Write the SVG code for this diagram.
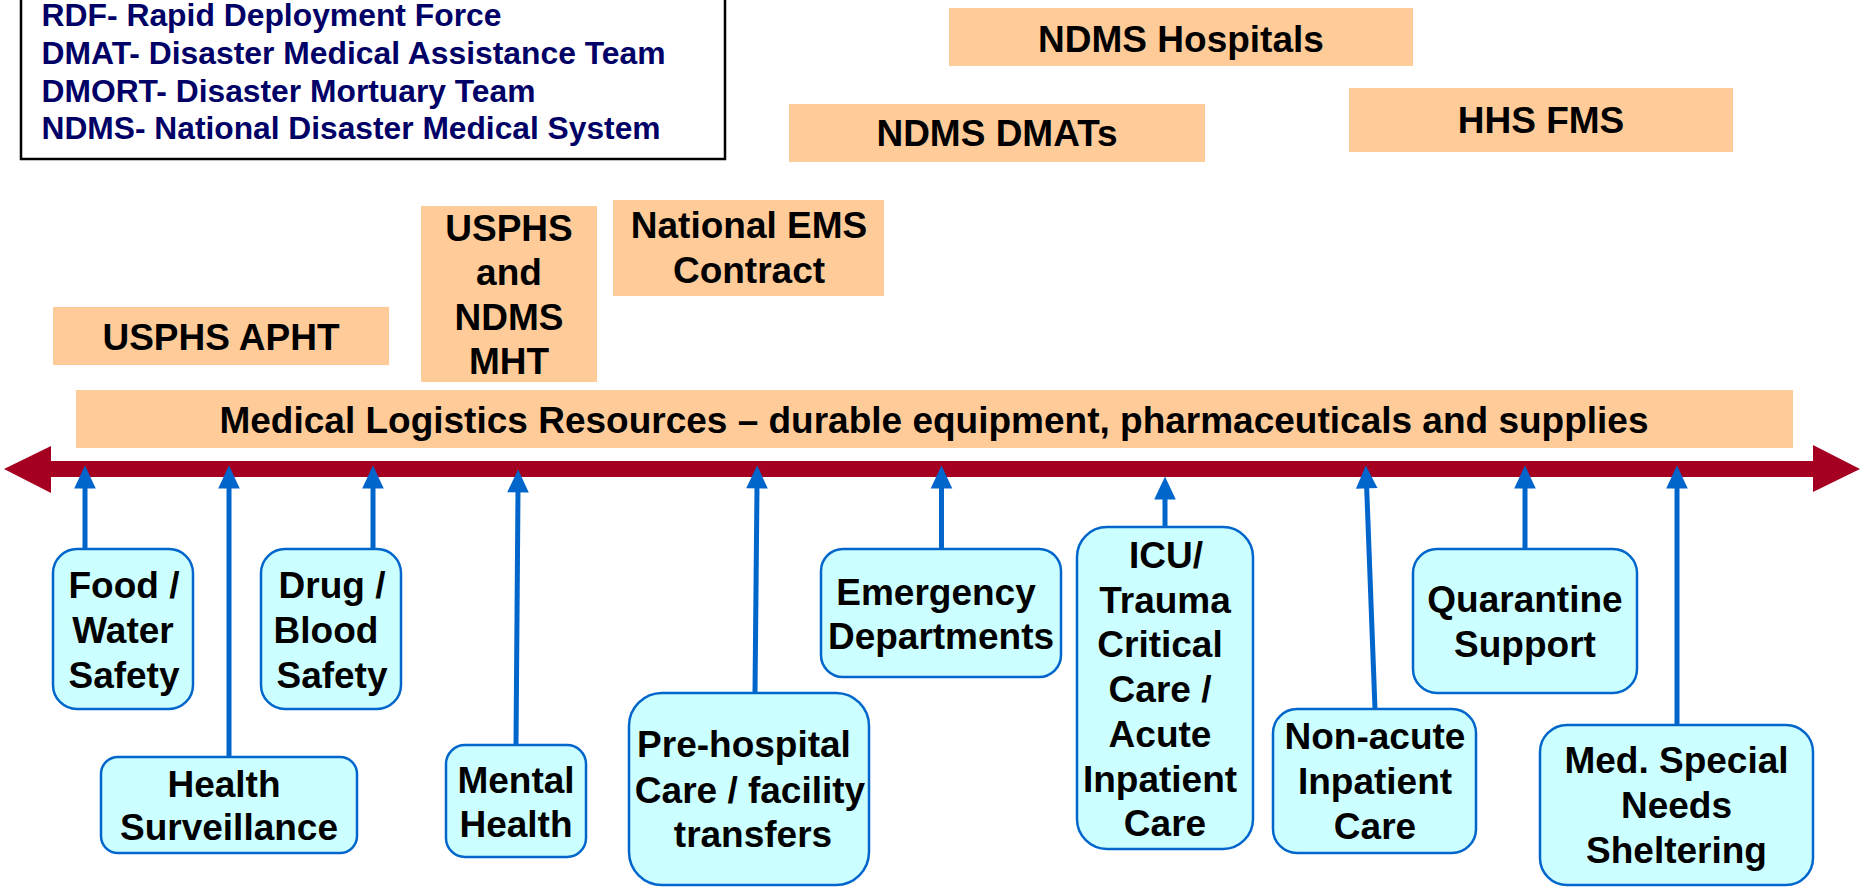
<svg xmlns="http://www.w3.org/2000/svg" width="1865" height="887" viewBox="0 0 1865 887">
<style>
.legend{font-family:"Liberation Sans",Arial,sans-serif;font-weight:bold;font-size:31.5px;fill:#000066}
.res{fill:#FFCC99}
.rt{font-family:"Liberation Sans",Arial,sans-serif;font-weight:bold;font-size:37px;fill:#000;text-anchor:middle}
.bx{fill:#CCFFFF;stroke:#0066CC;stroke-width:2.5}
.bt{font-family:"Liberation Sans",Arial,sans-serif;font-weight:bold;font-size:37px;fill:#000;text-anchor:middle}
.conn{stroke:#0066CC;stroke-width:5;fill:none;marker-end:url(#ah)}
</style>
<defs>
<marker id="ah" markerUnits="userSpaceOnUse" markerWidth="24" markerHeight="24" refX="2" refY="0" viewBox="0 -10 20 20" orient="auto" overflow="visible">
<path d="M0,-9 L19,0 L0,9 z" fill="#0066CC"/>
</marker>
</defs>
<rect width="1865" height="887" fill="#fff"/>

<g id="legend">
<rect x="21" y="-5" width="704" height="164" fill="#fff" stroke="#000" stroke-width="2.5"/>
<text class="legend" x="41.5" y="26" textLength="460" lengthAdjust="spacingAndGlyphs">RDF- Rapid Deployment Force</text>
<text class="legend" x="41.5" y="64" textLength="624" lengthAdjust="spacingAndGlyphs">DMAT- Disaster Medical Assistance Team</text>
<text class="legend" x="41.5" y="102" textLength="494" lengthAdjust="spacingAndGlyphs">DMORT- Disaster Mortuary Team</text>
<text class="legend" x="41.5" y="139" textLength="619" lengthAdjust="spacingAndGlyphs">NDMS- National Disaster Medical System</text>
</g>

<g id="ndms-hospitals">
<rect class="res" x="949" y="8" width="464" height="58"/>
<text class="rt" x="1181" y="52">NDMS Hospitals</text>
</g>
<g id="ndms-dmats">
<rect class="res" x="789" y="104" width="416" height="58"/>
<text class="rt" x="997" y="146">NDMS DMATs</text>
</g>
<g id="hhs-fms">
<rect class="res" x="1349" y="88" width="384" height="64"/>
<text class="rt" x="1541" y="133">HHS FMS</text>
</g>
<g id="national-ems">
<rect class="res" x="613" y="200" width="271" height="96"/>
<text class="rt" x="749" y="238">National EMS</text>
<text class="rt" x="749" y="283">Contract</text>
</g>
<g id="usphs-ndms-mht">
<rect class="res" x="421" y="206" width="176" height="176"/>
<text class="rt" x="509" y="241">USPHS</text>
<text class="rt" x="509" y="285">and</text>
<text class="rt" x="509" y="330">NDMS</text>
<text class="rt" x="509" y="374">MHT</text>
</g>
<g id="usphs-apht">
<rect class="res" x="53" y="307" width="336" height="58"/>
<text class="rt" x="221" y="350">USPHS APHT</text>
</g>
<g id="medical-logistics">
<rect class="res" x="76" y="390" width="1717" height="58"/>
<text class="rt" x="934" y="433">Medical Logistics Resources – durable equipment, pharmaceuticals and supplies</text>
</g>

<g id="timeline">
<polygon points="4,469 51,446 51,461 1813,461 1813,445 1860,469 1813,492 1813,477 51,477 51,493" fill="#A50021"/>
</g>

<g id="connectors">
<line class="conn" x1="85" y1="549" x2="85" y2="486"/>
<line class="conn" x1="229" y1="757" x2="229" y2="486"/>
<line class="conn" x1="373" y1="549" x2="373" y2="486"/>
<line class="conn" x1="516" y1="745" x2="518" y2="490"/>
<line class="conn" x1="755" y1="693" x2="757" y2="486"/>
<line class="conn" x1="941.5" y1="549" x2="941.5" y2="486"/>
<line class="conn" x1="1165" y1="527" x2="1165" y2="497"/>
<line class="conn" x1="1375" y1="709" x2="1366.6" y2="486"/>
<line class="conn" x1="1525" y1="549" x2="1525" y2="486"/>
<line class="conn" x1="1677" y1="725" x2="1677" y2="486"/>
</g>

<g id="food-water">
<rect class="bx" x="53" y="549" width="140" height="160" rx="24"/>
<text class="bt" x="124" y="598">Food /</text>
<text class="bt" x="123" y="643">Water</text>
<text class="bt" x="124" y="688">Safety</text>
</g>
<g id="drug-blood">
<rect class="bx" x="261" y="549" width="140" height="160" rx="24"/>
<text class="bt" x="332" y="598">Drug /</text>
<text class="bt" x="326" y="643">Blood</text>
<text class="bt" x="332" y="688">Safety</text>
</g>
<g id="health-surveillance">
<rect class="bx" x="101" y="757" width="256" height="96" rx="17"/>
<text class="bt" x="224" y="797">Health</text>
<text class="bt" x="229" y="840">Surveillance</text>
</g>
<g id="mental-health">
<rect class="bx" x="446" y="745" width="140" height="112" rx="19"/>
<text class="bt" x="516" y="793">Mental</text>
<text class="bt" x="516" y="837">Health</text>
</g>
<g id="pre-hospital">
<rect class="bx" x="629" y="693" width="240" height="192" rx="33"/>
<text class="bt" x="744" y="757">Pre-hospital</text>
<text class="bt" x="750" y="803">Care / facility</text>
<text class="bt" x="753" y="847">transfers</text>
</g>
<g id="emergency">
<rect class="bx" x="821" y="549" width="240" height="128" rx="22"/>
<text class="bt" x="936" y="605">Emergency</text>
<text class="bt" x="941" y="649">Departments</text>
</g>
<g id="icu">
<rect class="bx" x="1077" y="527" width="176" height="322" rx="30"/>
<text class="bt" x="1166" y="568">ICU/</text>
<text class="bt" x="1165" y="613">Trauma</text>
<text class="bt" x="1160" y="657">Critical</text>
<text class="bt" x="1160" y="702">Care /</text>
<text class="bt" x="1160" y="747">Acute</text>
<text class="bt" x="1160" y="792">Inpatient</text>
<text class="bt" x="1165" y="836">Care</text>
</g>
<g id="non-acute">
<rect class="bx" x="1273" y="709" width="203" height="144" rx="24"/>
<text class="bt" x="1375" y="749">Non-acute</text>
<text class="bt" x="1375" y="794">Inpatient</text>
<text class="bt" x="1375" y="839">Care</text>
</g>
<g id="quarantine">
<rect class="bx" x="1413" y="549" width="224" height="144" rx="24"/>
<text class="bt" x="1525" y="612">Quarantine</text>
<text class="bt" x="1525" y="657">Support</text>
</g>
<g id="med-special">
<rect class="bx" x="1540" y="725" width="273" height="160" rx="27"/>
<text class="bt" x="1676.5" y="773">Med. Special</text>
<text class="bt" x="1676.5" y="818">Needs</text>
<text class="bt" x="1676.5" y="863">Sheltering</text>
</g>
</svg>
